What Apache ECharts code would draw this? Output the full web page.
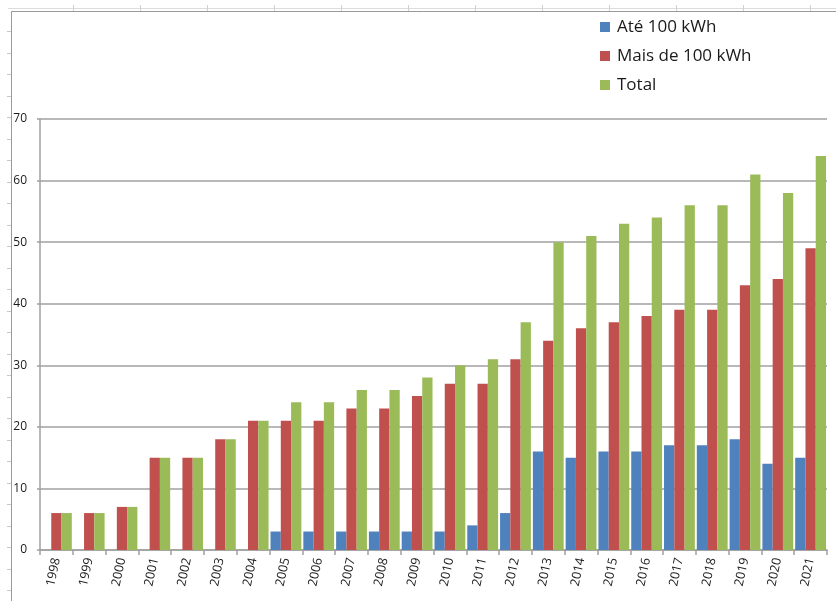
<!DOCTYPE html>
<html>
<head>
<meta charset="utf-8">
<script src="https://cdn.jsdelivr.net/npm/echarts@6/dist/echarts.min.js"></script>
<style>
  html, body { margin: 0; padding: 0; background: #ffffff; }
  #chart { width: 836px; height: 601px; }
</style>
</head>
<body>
<div id="chart"></div>
<script>
// Years on the category axis
const years = ['1998','1999','2000','2001','2002','2003','2004','2005','2006','2007','2008','2009',
               '2010','2011','2012','2013','2014','2015','2016','2017','2018','2019','2020','2021'];

// Series values (number per year)
const ate100 = ['-','-','-','-','-','-','-', 3, 3, 3, 3, 3, 3, 4, 6, 16, 15, 16, 16, 17, 17, 18, 14, 15];
const mais100 = [6, 6, 7, 15, 15, 18, 21, 21, 21, 23, 23, 25, 27, 27, 31, 34, 36, 37, 38, 39, 39, 43, 44, 49];
const total = [6, 6, 7, 15, 15, 18, 21, 24, 24, 26, 26, 28, 30, 31, 37, 50, 51, 53, 54, 56, 56, 61, 58, 64];

const seriesNames = ['Até 100 kWh', 'Mais de 100 kWh', 'Total'];
const colors = ['#4f81bd', '#c0504d', '#9bbb59'];

// Value axis range
const yMin = 0, yMax = 70, yStep = 10;

const FONT = 'Open Sans';

// Worksheet-style frame around the chart area (column marks along the top, row marks down the left)
const frame = [];
frame.push({ type: 'line', shape: { x1: 8, y1: 8.5, x2: 836, y2: 8.5 }, style: { stroke: '#dcdcdc', lineWidth: 1 }, silent: true });
frame.push({ type: 'line', shape: { x1: 11.5, y1: 11.5, x2: 836, y2: 11.5 }, style: { stroke: '#9a9a9a', lineWidth: 1 }, silent: true });
frame.push({ type: 'line', shape: { x1: 11.5, y1: 11.5, x2: 11.5, y2: 601 }, style: { stroke: '#9a9a9a', lineWidth: 1 }, silent: true });
for (let x = 73; x < 836; x += 67) {
  frame.push({ type: 'line', shape: { x1: x + 0.5, y1: 5, x2: x + 0.5, y2: 11 }, style: { stroke: '#d0d0d0', lineWidth: 1 }, silent: true });
}
for (let y = 31; y < 601; y += 21.5) {
  frame.push({ type: 'line', shape: { x1: 7, y1: Math.round(y) + 0.5, x2: 11, y2: Math.round(y) + 0.5 }, style: { stroke: '#c8c8c8', lineWidth: 1 }, silent: true });
}

const chart = echarts.init(document.getElementById('chart'), null, { renderer: 'canvas' });

chart.setOption({
  backgroundColor: '#ffffff',
  animation: false,
  color: colors,
  textStyle: { fontFamily: FONT },
  graphic: frame,
  legend: {
    orient: 'vertical',
    left: 600,
    top: 17,
    padding: 0,
    itemWidth: 10,
    itemHeight: 10,
    itemGap: 9,
    icon: 'rect',
    data: seriesNames,
    textStyle: { fontFamily: FONT, fontSize: 17, color: '#1a1a1a', lineHeight: 20, padding: [0, 0, 0, 2] }
  },
  grid: { left: 40, right: 9, top: 119, bottom: 51, containLabel: false },
  xAxis: {
    type: 'category',
    data: years,
    axisLine: { lineStyle: { color: '#a0a0a0', width: 1.5 } },
    axisTick: { show: true, length: 5, lineStyle: { color: '#a0a0a0', width: 1.5 } },
    axisLabel: { rotate: 78, fontFamily: FONT, fontSize: 12.5, color: '#1a1a1a', margin: 8, interval: 0 }
  },
  yAxis: {
    type: 'value',
    min: yMin,
    max: yMax,
    interval: yStep,
    axisLine: { show: true, lineStyle: { color: '#a0a0a0', width: 1.5 } },
    axisTick: { show: true, length: 3, lineStyle: { color: '#a0a0a0', width: 1.5 } },
    axisLabel: { fontFamily: FONT, fontSize: 12, color: '#1a1a1a', margin: 13 },
    splitLine: { show: true, lineStyle: { color: '#a0a0a0', width: 1.5 } }
  },
  series: [
    { name: seriesNames[0], type: 'bar', data: ate100, barGap: '0%', barCategoryGap: '6%' },
    { name: seriesNames[1], type: 'bar', data: mais100, barGap: '0%', barCategoryGap: '6%' },
    { name: seriesNames[2], type: 'bar', data: total, barGap: '0%', barCategoryGap: '6%' }
  ]
});
</script>
</body>
</html>
